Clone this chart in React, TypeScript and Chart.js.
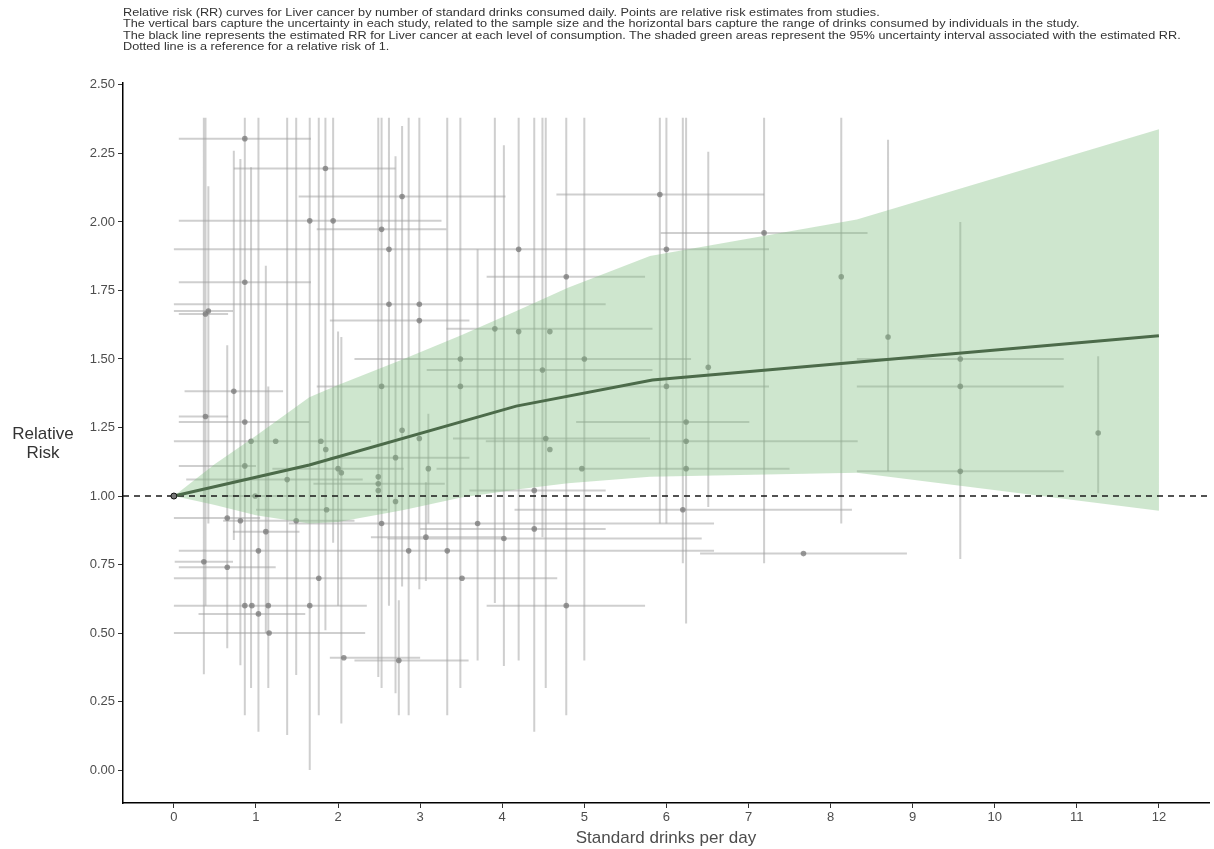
import React, { useEffect, useRef } from "react";
import { Chart, registerables } from "chart.js";

Chart.register(...registerables);

const FONT = "'Liberation Sans', Arial, Helvetica, sans-serif";

const titleLines = [
  "Relative risk (RR) curves for Liver cancer by number of standard drinks consumed daily. Points are relative risk estimates from studies.",
  "The vertical bars capture the uncertainty in each study, related to the sample size and the horizontal bars capture the range of drinks consumed by individuals in the study.",
  "The black line represents the estimated RR for Liver cancer at each level of consumption. The shaded green areas represent the 95% uncertainty interval associated with the estimated RR.",
  "Dotted line is a reference for a relative risk of 1.",
];

const xTitle = "Standard drinks per day";
const yTitleLines = ["Relative", "Risk"];

const xTicks = [0, 1, 2, 3, 4, 5, 6, 7, 8, 9, 10, 11, 12];
const yTicks = [0, 0.25, 0.5, 0.75, 1, 1.25, 1.5, 1.75, 2, 2.25, 2.5];

// Estimated curve
const curveDrinks = [0, 1.65, 4.17, 5.83, 12];
const curveRR = [1, 1.113, 1.328, 1.423, 1.585];

// 95% uncertainty band
const bandDrinks = [0, 0.5, 1.0, 1.65, 2.0, 2.8, 3.5, 4.2, 4.8, 5.8, 8.32, 12];
const bandUpper = [1, 1.117, 1.22, 1.36, 1.405, 1.5, 1.587, 1.679, 1.76, 1.876, 2.009, 2.338];
const bandLower = [1, 0.967, 0.93, 0.9, 0.905, 0.949, 0.995, 1.025, 1.047, 1.07, 1.085, 0.946];

// Study estimates
const studyDrinks = [
  0.365, 0.385, 0.385, 0.42, 0.65, 0.65, 0.73, 0.81, 0.864, 0.864,
  0.864, 0.864, 0.864, 0.94, 0.95, 0.99, 1.03, 1.03, 1.12, 1.15,
  1.16, 1.24, 1.38, 1.49, 1.655, 1.655, 1.765, 1.79, 1.846, 1.85,
  1.86, 1.94, 2.0, 2.04, 2.07, 2.49, 2.49, 2.49, 2.53, 2.53,
  2.53, 2.62, 2.62, 2.7, 2.7, 2.74, 2.78, 2.78, 2.86, 2.99,
  2.99, 2.99, 3.07, 3.1, 3.33, 3.49, 3.49, 3.51, 3.7, 3.91,
  4.02, 4.2, 4.2, 4.39, 4.39, 4.49, 4.53, 4.58, 4.58, 4.78,
  4.78, 5.0, 4.97, 5.92, 6.0, 6.0, 6.24, 6.24, 6.24, 6.2,
  6.51, 7.19, 7.67, 8.13, 8.7, 9.58, 9.58, 9.58, 11.26,
];
const studyRR = [
  0.76, 1.29, 1.664, 1.675, 0.92, 0.74, 1.382, 0.91, 2.304, 1.78,
  1.27, 1.11, 0.6, 1.2, 0.6, 1.0, 0.8, 0.57, 0.87, 0.6,
  0.5, 1.2, 1.06, 0.91, 2.004, 0.6, 0.7, 1.2, 2.195, 1.17,
  0.95, 2.004, 1.1, 1.085, 0.41, 1.07, 1.045, 1.02, 1.973, 1.4,
  0.9, 1.9, 1.7, 1.14, 0.98, 0.4, 2.093, 1.24, 0.8, 1.7,
  1.64, 1.21, 0.85, 1.1, 0.8, 1.5, 1.4, 0.7, 0.9, 1.61,
  0.845, 1.9, 1.6, 1.02, 0.88, 1.46, 1.21, 1.17, 1.6, 1.8,
  0.6, 1.5, 1.1, 2.1, 1.9, 1.4, 1.27, 1.2, 1.1, 0.95,
  1.47, 1.96, 0.79, 1.8, 1.58, 1.5, 1.4, 1.09, 1.23,
];
const drinksLow = [
  0.01, 0.06, 0.06, 0.0, 0.0, 0.06, 0.13, 0.6, 0.06, 0.06,
  0.06, 0.06, 0.0, 0.0, null, 0.6, 0.06, 0.3, 0.72, 0.0,
  0.0, null, 0.15, 0.7, 0.06, null, 0.0, 1.2, 0.73, null,
  1.0, null, 1.2, null, 1.9, null, 1.7, null, 1.74, 1.74,
  1.4, 0.0, 0.0, 1.9, null, 2.2, 1.52, null, 1.03, 1.74,
  1.9, null, 2.4, null, 2.1, 2.2, 2.6, null, 2.4, 3.32,
  2.6, 3.4, null, 3.6, 3.0, 3.08, 3.4, null, null, 3.81,
  3.81, 3.9, 3.2, 4.66, 4.8, 4.66, 4.9, 3.8, null, 4.15,
  null, 5.93, 6.41, null, null, 8.32, 8.32, 8.32, null,
];
const drinksHigh = [
  0.72, 0.66, 0.66, 0.72, 1.05, 1.24, 1.33, 1.6, 1.67, 1.67,
  1.65, 1.0, 1.6, 1.86, null, 1.5, 2.9, 1.6, 1.53, 2.35,
  2.33, null, 2.3, 2.2, 3.26, null, 4.67, 2.4, 2.7, null,
  2.6, null, 2.8, null, 3.0, null, 3.3, null, 3.32, 3.4,
  3.7, 3.4, 3.3, 3.6, null, 3.59, 4.04, null, 3.82, 5.26,
  3.6, null, 4.0, null, 6.58, 4.67, 4.66, null, 6.58, 5.83,
  6.43, 5.27, null, 5.26, 5.26, 5.83, 5.8, null, null, 5.74,
  5.74, 6.3, 7.5, 7.19, 7.25, 7.25, 7.01, 8.33, null, 8.26,
  null, 8.45, 8.93, null, null, 10.84, 10.84, 10.84, null,
];
const rrLow = [
  0.35, null, 0.6, 0.9, 0.445, null, 0.84, 0.383, 0.2, null,
  null, null, null, 0.3, null, null, 0.14, null, 0.5, 0.3,
  null, null, 0.128, 0.347, 0.0, null, 0.2, null, 0.51, null,
  null, 0.83, 0.6, 0.17, null, 0.34, null, null, 0.3, null,
  null, 0.6, null, 0.28, null, 0.2, 0.67, null, 0.2, 0.66,
  null, null, 0.69, 0.9, 0.2, 0.3, null, null, 0.4, 0.61,
  0.38, 0.4, null, 0.14, null, 0.85, 0.3, null, null, 0.2,
  null, 0.4, null, 0.9, 0.9, null, 0.535, null, null, 0.755,
  0.96, 0.755, null, 0.9, 1.09, 0.77, null, null, 1.01,
];
const rrHigh = [
  2.38, null, 2.38, 2.13, 1.55, null, 2.26, 2.23, 2.38, null,
  null, null, null, 2.2, null, null, 2.38, null, 1.84, 1.4,
  null, null, 2.38, 2.38, 2.38, null, 2.38, null, 2.38, null,
  null, 2.38, 1.6, 1.58, null, 2.38, null, null, 2.38, null,
  null, 2.38, null, 2.24, null, 0.62, 2.35, null, 2.38, 2.38,
  null, null, 1.05, 1.3, 2.38, 2.38, null, null, 1.9, 2.38,
  2.28, 2.38, null, 2.38, null, 2.38, 2.38, null, null, 2.38,
  null, 2.38, null, 2.38, 2.38, null, 2.38, null, null, 2.38,
  2.256, 2.38, null, 2.38, 2.3, 2.0, null, null, 1.51,
];

const X_MIN = -0.62;
const X_MAX = 12.61;
const Y_MIN = -0.12;
const Y_MAX = 2.507;

export default function App() {
  const canvasRef = useRef<HTMLCanvasElement | null>(null);

  useEffect(() => {
    const canvas = canvasRef.current;
    if (!canvas) return;

    const vSeg: any[] = [];
    const hSeg: any[] = [];
    studyDrinks.forEach((x, i) => {
      const lo = rrLow[i];
      const hi = rrHigh[i];
      if (lo != null && hi != null) {
        vSeg.push({ x, y: lo }, { x, y: hi }, { x, y: null });
      }
      const xl = drinksLow[i];
      const xh = drinksHigh[i];
      if (xl != null && xh != null) {
        hSeg.push({ x: xl, y: studyRR[i] }, { x: xh, y: studyRR[i] }, { x: xh, y: null });
      }
    });

    const points = studyDrinks.map((x, i) => ({ x, y: studyRR[i] }));
    const curve = curveDrinks.map((x, i) => ({ x, y: curveRR[i] }));
    const upper = bandDrinks.map((x, i) => ({ x, y: bandUpper[i] }));
    const lower = bandDrinks.map((x, i) => ({ x, y: bandLower[i] }));

    const barColor = "rgba(160,160,160,0.5)";

    const chart = new Chart(canvas, {
      type: "line",
      data: {
        datasets: [
          {
            label: "vbars",
            data: vSeg,
            borderColor: barColor,
            borderWidth: 2,
            pointRadius: 0,
            spanGaps: false,
            fill: false,
            order: 10,
          },
          {
            label: "hbars",
            data: hSeg,
            borderColor: barColor,
            borderWidth: 2,
            pointRadius: 0,
            spanGaps: false,
            fill: false,
            order: 9,
          },
          {
            label: "studies",
            data: points,
            showLine: false,
            pointRadius: 2.8,
            pointBackgroundColor: "rgba(120,120,120,0.75)",
            pointBorderWidth: 0,
            order: 8,
          },
          {
            label: "upper",
            data: upper,
            borderWidth: 0,
            borderColor: "rgba(0,0,0,0)",
            pointRadius: 0,
            fill: "+1",
            backgroundColor: "rgba(125,190,125,0.38)",
            order: 5,
          },
          {
            label: "lower",
            data: lower,
            borderWidth: 0,
            borderColor: "rgba(0,0,0,0)",
            pointRadius: 0,
            fill: false,
            order: 6,
          },
          {
            label: "ref",
            data: [
              { x: X_MIN, y: 1 },
              { x: X_MAX, y: 1 },
            ],
            borderColor: "#1a1a1a",
            borderWidth: 1.6,
            borderDash: [6, 5],
            pointRadius: 0,
            fill: false,
            order: 2,
          },
          {
            label: "curve",
            data: curve,
            borderColor: "#4c6b4a",
            borderWidth: 3,
            pointRadius: (ctx: any) => (ctx.dataIndex === 0 ? 3 : 0),
            pointBackgroundColor: "#777",
            pointBorderColor: "#111",
            pointBorderWidth: 1,
            fill: false,
            tension: 0,
            order: 1,
          },
        ],
      },
      options: {
        responsive: false,
        animation: false,
        events: [],
        layout: { padding: { top: 83, right: 4, left: 0, bottom: 0 } },
        plugins: {
          legend: { display: false },
          tooltip: { enabled: false },
          title: { display: false },
        },
        scales: {
          x: {
            type: "linear",
            min: X_MIN,
            max: X_MAX,
            afterBuildTicks: (s: any) => {
              s.ticks = xTicks.map((v) => ({ value: v }));
            },
            afterFit: (s: any) => {
              s.height = 46;
            },
            ticks: {
              autoSkip: false,
              maxRotation: 0,
              color: "#4d4d4d",
              font: { family: FONT, size: 13 },
              padding: 2,
              callback: (v: any) => String(v),
            },
            grid: { drawOnChartArea: false, drawTicks: true, tickLength: 5, color: "#333" },
            border: { display: true, color: "#000", width: 1.5 },
            title: {
              display: true,
              text: xTitle,
              color: "#4d4d4d",
              font: { family: FONT, size: 17 },
              padding: { top: 2, bottom: 0 },
            },
          },
          y: {
            type: "linear",
            min: Y_MIN,
            max: Y_MAX,
            afterBuildTicks: (s: any) => {
              s.ticks = yTicks.map((v) => ({ value: v }));
            },
            afterFit: (s: any) => {
              s.width = 123;
            },
            ticks: {
              autoSkip: false,
              color: "#4d4d4d",
              font: { family: FONT, size: 13 },
              padding: 3,
              callback: (v: any) => Number(v).toFixed(2),
            },
            grid: { drawOnChartArea: false, drawTicks: true, tickLength: 5, color: "#333" },
            border: { display: true, color: "#000", width: 1.5 },
          },
        },
      },
    } as any);

    return () => chart.destroy();
  }, []);

  return (
    <div
      style={{
        position: "fixed",
        left: 0,
        top: 0,
        width: 1214,
        height: 849,
        background: "#fff",
        overflow: "hidden",
      }}
    >
      <canvas
        ref={canvasRef}
        width={1214}
        height={849}
        style={{ position: "absolute", left: 0, top: 0, width: 1214, height: 849 }}
      />
      <div
        style={{
          position: "absolute",
          left: 123,
          top: 7,
          fontFamily: FONT,
          fontSize: 10.5,
          lineHeight: "11.4px",
          color: "#333",
          whiteSpace: "nowrap",
          transform: "scaleX(1.21)",
          transformOrigin: "left top",
        }}
      >
        {titleLines.map((t, i) => (
          <div key={i}>{t}</div>
        ))}
      </div>
      <div
        style={{
          position: "absolute",
          left: 0,
          width: 86,
          top: 425,
          textAlign: "center",
          fontFamily: FONT,
          fontSize: 17,
          lineHeight: "18.5px",
          color: "#333",
        }}
      >
        {yTitleLines.map((t, i) => (
          <div key={i}>{t}</div>
        ))}
      </div>
    </div>
  );
}
